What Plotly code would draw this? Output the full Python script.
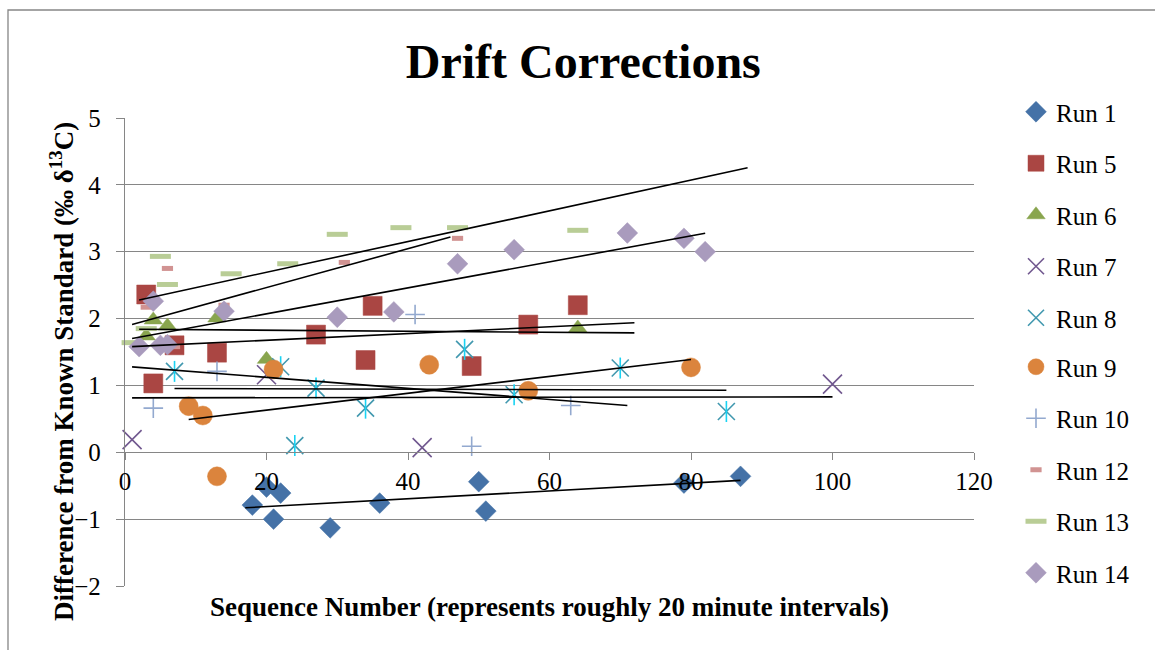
import plotly.graph_objects as go

# ---- data -------------------------------------------------------------
runs = ["Run 1", "Run 5", "Run 6", "Run 7", "Run 8",
        "Run 9", "Run 10", "Run 12", "Run 13", "Run 14"]

run1_x = [18, 20, 21, 22, 29, 36, 50, 51, 79, 87]
run1_y = [-0.79, -0.52, -1.00, -0.61, -1.13, -0.76, -0.44, -0.88, -0.46, -0.36]

run5_x = [3, 4, 7, 13, 27, 34, 35, 49, 57, 64]
run5_y = [2.36, 1.03, 1.60, 1.49, 1.76, 1.38, 2.19, 1.29, 1.91, 2.20]

run6_x = [3, 4, 6, 13, 20, 64]
run6_y = [1.74, 1.98, 1.89, 2.01, 1.39, 1.86]

run7_x = [1, 20, 42, 100]
run7_y = [0.19, 1.16, 0.07, 1.02]

run8_x = [7, 22, 24, 27, 34, 48, 55, 70, 85]
run8_y = [1.21, 1.28, 0.10, 0.96, 0.66, 1.54, 0.86, 1.26, 0.61]

run9_x = [9, 11, 13, 21, 43, 57, 80]
run9_y = [0.69, 0.55, -0.36, 1.24, 1.31, 0.92, 1.27]

run10_x = [4, 13, 41, 49, 63]
run10_y = [0.66, 1.21, 2.06, 0.09, 0.70]

run12_x = [3, 6, 7, 14, 31, 47]
run12_y = [2.17, 2.75, 1.58, 2.20, 2.84, 3.20]

run13_x = [1, 3, 5, 6, 15, 23, 30, 39, 47, 64]
run13_y = [1.64, 1.85, 2.93, 2.51, 2.67, 2.82, 3.26, 3.36, 3.36, 3.32]

run14_x = [2, 4, 5, 6, 14, 30, 38, 47, 55, 71, 79, 82]
run14_y = [1.58, 2.26, 1.60, 1.61, 2.11, 2.02, 2.10, 2.82, 3.03, 3.28, 3.20, 3.00]

# linear trendline for each run: y = slope * x + intercept over [start, end]
trend_slope = [0.00586, 0.00502, -0.00076, 0.00015, -0.00033,
               0.01264, -0.00826, 0.02906, 0.02298, 0.01943]
trend_intercept = [-0.930, 1.575, 1.841, 0.814, 0.956,
                   0.377, 1.286, 1.883, 2.233, 1.682]
trend_start = [17, 1, 2, 1, 7, 9, 1, 1, 2, 1]
trend_end = [87, 72, 72, 100, 85, 80, 71, 46, 88, 82]

y_ticks = [-2, -1, 0, 1, 2, 3, 4, 5]
x_ticks = [0, 20, 40, 60, 80, 100, 120]

series_x = [run1_x, run5_x, run6_x, run7_x, run8_x,
            run9_x, run10_x, run12_x, run13_x, run14_x]
series_y = [run1_y, run5_y, run6_y, run7_y, run8_y,
            run9_y, run10_y, run12_y, run13_y, run14_y]

# ---- styling ------------------------------------------------------------
colors = ["#4572A7", "#AA4643", "#89A54E", "#71588F", "#4198AF",
          "#DB843D", "#93A9CF", "#D19392", "#B9CD96", "#A99BBD"]
symbols = ["diamond", "square", "triangle-up", "x-thin-open", "x-thin-open",
           "circle", "cross-thin-open", "line-ew-open", "line-ew-open", "diamond"]
sizes = [16, 19, 16, 19, 17, 19, 14, 8, 15, 16]
line_w = [0, 0, 0, 1.6, 1.6, 0, 1.6, 5, 5, 0]

FONT = "Liberation Serif"
GRID = "#868686"

W, H = 1155, 650
L, R, T, B = 125, 181, 118, 64
PW, PH = W - L - R, H - T - B


def px_x(px):
    return (px - L) / PW


def px_y(py):
    return (H - B - py) / PH


fig = go.Figure()

for i, name in enumerate(runs):
    open_sym = symbols[i].endswith("open")
    marker = dict(symbol=symbols[i], size=sizes[i], color=colors[i])
    if open_sym:
        marker["line"] = dict(color=colors[i], width=line_w[i])
    else:
        marker["line"] = dict(color=colors[i], width=0.5)
    legend_id = "legend" if i < 5 else "legend2"
    fig.add_trace(go.Scatter(
        x=series_x[i], y=series_y[i], mode="markers", name=name,
        legendgroup=name, legend=legend_id, marker=marker, cliponaxis=False,
    ))
    if name == "Run 8":
        # vertical stroke completes the star-shaped marker
        fig.add_trace(go.Scatter(
            x=series_x[i], y=series_y[i], mode="markers", name=name,
            legendgroup=name, showlegend=False, hoverinfo="skip",
            marker=dict(symbol="line-ns-open", size=15,
                        line=dict(color=colors[i], width=1.6)),
        ))

for i, name in enumerate(runs):
    xs = [trend_start[i], trend_end[i]]
    ys = [trend_slope[i] * v + trend_intercept[i] for v in xs]
    fig.add_trace(go.Scatter(
        x=xs, y=ys, mode="lines", showlegend=False, hoverinfo="skip",
        line=dict(color="black", width=1.6),
    ))

legend_common = dict(xref="container", yref="container", x=1016 / W,
                     xanchor="left", yanchor="top", tracegroupgap=16,
                     itemsizing="trace",
                     font=dict(family=FONT, size=25, color="black"),
                     bgcolor="rgba(0,0,0,0)")

fig.update_layout(
    width=W, height=H,
    margin=dict(l=L, r=R, t=T, b=B, autoexpand=False),
    paper_bgcolor="white", plot_bgcolor="white",
    font=dict(family=FONT, color="black", size=25),
    title=dict(text="Drift Corrections", x=0.505, xref="container",
               y=1 - 61 / H, yref="container", xanchor="center", yanchor="middle",
               font=dict(family=FONT, size=48, weight="bold", color="black")),
    xaxis=dict(range=[0, 120], tickvals=x_ticks, showgrid=False, zeroline=False,
               showline=True, linecolor=GRID, linewidth=1.3,
               ticks="outside", ticklen=7, tickcolor=GRID, tickwidth=1.3,
               anchor="free", position=(0 - y_ticks[0]) / (y_ticks[-1] - y_ticks[0]),
               tickfont=dict(family=FONT, size=25, color="black")),
    yaxis=dict(range=[-2, 5], tickvals=y_ticks, showgrid=True, gridcolor=GRID,
               gridwidth=1.3, zeroline=False, showline=True, linecolor=GRID,
               linewidth=1.3, ticks="outside", ticklen=8, tickcolor=GRID,
               tickwidth=1.3, ticklabelstandoff=10,
               tickfont=dict(family=FONT, size=25, color="black")),
    legend=dict(legend_common, y=1 - 89 / H),
    legend2=dict(legend_common, y=1 - (89 + 5 * 51) / H),
    showlegend=True,
)

fig.add_annotation(
    text="Difference from Known Standard (‰ δ<sup>13</sup>C)",
    xref="paper", yref="paper", x=px_x(62), y=px_y(372),
    textangle=-90, showarrow=False, xanchor="center", yanchor="middle",
    font=dict(family=FONT, size=27, weight="bold", color="black"),
)
fig.add_annotation(
    text="Sequence Number (represents roughly 20 minute intervals)",
    xref="paper", yref="paper", x=px_x(549), y=px_y(607),
    showarrow=False, xanchor="center", yanchor="middle",
    font=dict(family=FONT, size=27, weight="bold", color="black"),
)

# outer chart border
fig.add_shape(type="rect", xref="paper", yref="paper",
              x0=px_x(8), y0=px_y(10), x1=px_x(W + 10), y1=px_y(H + 10),
              line=dict(color=GRID, width=1.3), layer="below")

fig.write_html("out.html")
